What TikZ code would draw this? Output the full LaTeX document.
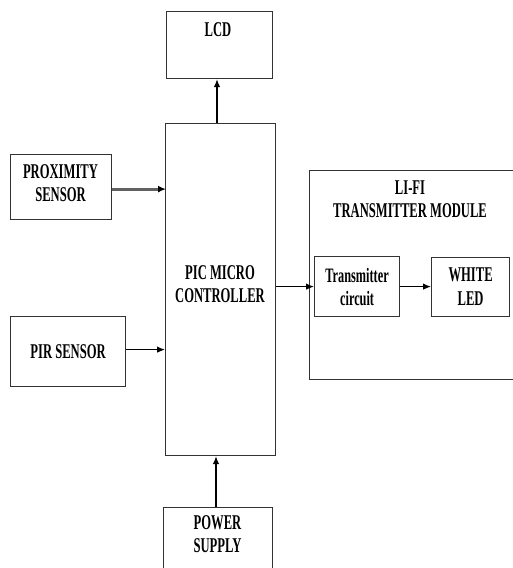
\documentclass[tikz,border=0pt]{standalone}
\usepackage{fontspec}
\setmainfont{Liberation Serif}[FakeStretch=0.6]
\usetikzlibrary{arrows.meta}
\tikzset{
  blk/.style={draw=black!80, line width=1.2pt, rectangle, inner sep=0pt, anchor=north west,
    font=\fontsize{21}{24}\selectfont\bfseries, align=center},
  sblk/.style={blk, font=\fontsize{20.5}{23}\selectfont\bfseries},
  lbl/.style={font=\fontsize{21}{23.5}\selectfont\bfseries, align=center, inner sep=0pt},
  arr/.style={line width=1.2pt, -{Latex[length=8pt,width=6.5pt]}},
  garr/.style={draw=black!62, line width=3pt, -{Latex[length=8pt,width=7pt,fill=black,color=black]}, shorten >=-1pt}
}
\begin{document}
\begin{tikzpicture}[x=1pt,y=-1pt]
\useasboundingbox (0,0) rectangle (512,568);
\fill[white] (0,0) rectangle (512,568);
% LCD
\node[blk, minimum width=106pt, minimum height=67pt] (lcd) at (166,11) {};
\node[lbl] (lcdt) at (218,30) {LCD};
% PIC
\node[blk, minimum width=110pt, minimum height=332pt] (pic) at (165,123) {};
\node[lbl] (pict) at (220,284) {PIC MICRO\\CONTROLLER};
% Proximity
\node[blk, minimum width=101pt, minimum height=65pt] (prox) at (10,154) {};
\node[lbl] (proxt) at (60.5,183) {PROXIMITY\\SENSOR};
% PIR
\node[blk, minimum width=115pt, minimum height=70pt] (pir) at (10,316) {PIR SENSOR};
% Power supply
\node[blk, minimum width=109pt, minimum height=66pt] (pwr) at (163,507) {};
\node[lbl] (pwrt) at (217.5,534) {POWER\\SUPPLY};
% Li-Fi module
\node[blk, minimum width=215pt, minimum height=209pt] (lifi) at (309,170) {};
\node[lbl] (lifit) at (410,199) {LI-FI\\TRANSMITTER MODULE};
% Transmitter circuit
\node[sblk, minimum width=85pt, minimum height=60pt] (tx) at (314,256) {Transmitter\\circuit};
% White LED
\node[blk, minimum width=78pt, minimum height=59pt] (led) at (431,257) {WHITE\\LED};
% Connectors
\draw[arr] (pic.north -| 217,0) coordinate (pn) -- (lcd.south -| pn);
\draw[garr] ([yshift=-2pt]prox.east) -- ([yshift=-2pt]prox.east -| pic.west);
\draw[arr] ([yshift=2pt]pir.east) -- ([yshift=2pt]pir.east -| pic.west);
\draw[arr] (pwr.north -| 216,0) coordinate (pw) -- (pic.south -| pw);
\draw[arr] (pic.east |- tx.west) -- (tx.west);
\draw[arr] (tx.east) -- (tx.east -| led.west);
\end{tikzpicture}
\end{document}
